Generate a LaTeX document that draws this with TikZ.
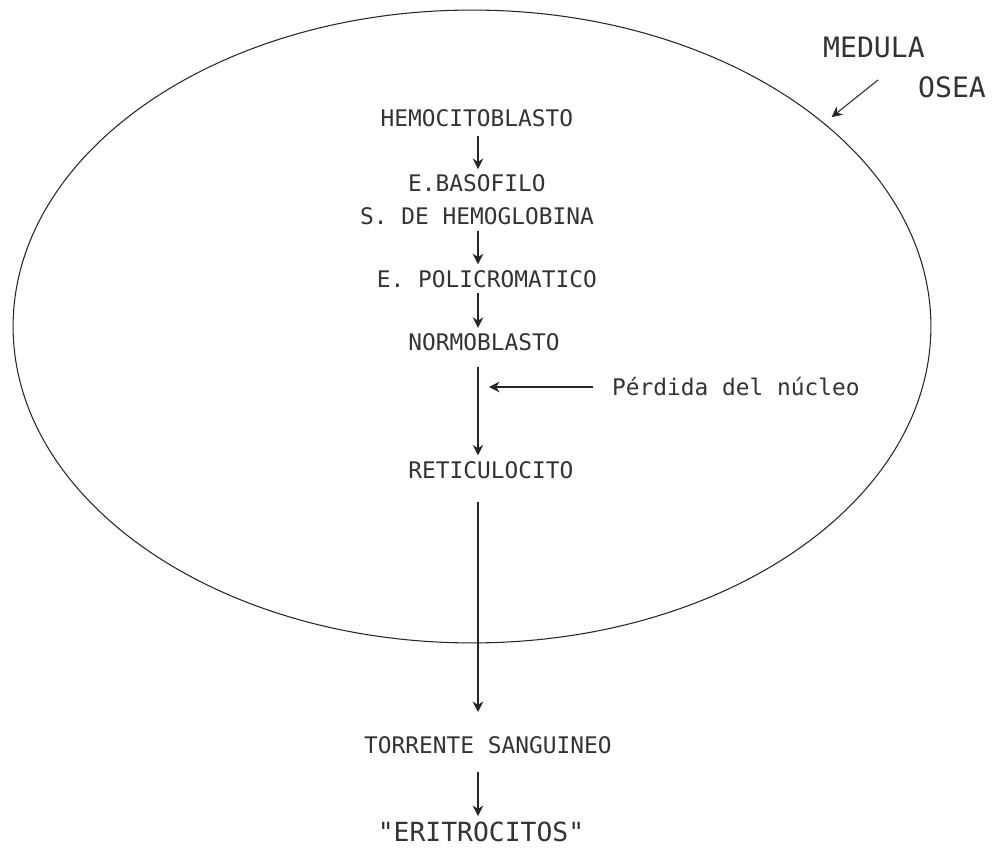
\documentclass[tikz,border=0pt]{standalone}
\usepackage{fontspec}
\usepackage{tikz}
\usetikzlibrary{shapes.geometric, arrows.meta}
\newfontfamily\printer{DejaVu Sans Mono}
\tikzstyle{stage} = [font=\printer\fontsize{13}{15}\selectfont, text=black!80, text height=9.5pt, text depth=0pt]
\tikzstyle{bigtext} = [font=\printer\fontsize{16}{18}\selectfont, text=black!80, text height=11.5pt, text depth=0pt]
\tikzstyle{quoted} = [font=\printer\fontsize{15}{17}\selectfont, text=black!80, text height=11pt, text depth=0pt]
\tikzstyle{arrow} = [line width=0.6pt, draw=black!85, -{Stealth[length=6pt, width=6pt]}]
\usetikzlibrary{positioning}

\begin{document}
\begin{tikzpicture}[x=0.02cm, y=-0.02cm]
        \useasboundingbox (0,0) rectangle (992,848);

        % Bone marrow
        \node (marrow) [ellipse, draw=black!85, line width=0.6pt, minimum width=18.36cm, minimum height=12.66cm, inner sep=0pt, outer sep=0pt] at (472,326.5) {};
        \node (medula) [bigtext] at (874,47) {MEDULA};
        \node (osea) [bigtext] at (952,87) {OSEA};
        \coordinate (pointer) at (878,80);

        % Maturation stages
        \node (hemo) [stage] at (477,118) {HEMOCITOBLASTO};
        \node (baso) [stage, below=0.73cm of hemo] {E.BASOFILO};
        \node (synth) [stage, below=0.07cm of baso] {S. DE HEMOGLOBINA};
        \node (poli) [stage, below=0.67cm of synth, xshift=0.2cm] {E. POLICROMATICO};
        \node (normo) [stage, below=0.69cm of poli, xshift=-0.06cm] {NORMOBLASTO};
        \node (retic) [stage, below=1.97cm of normo, xshift=0.14cm] {RETICULOCITO};

        % Nucleus loss
        \node (nucleo) [stage, anchor=west] at (606,387) {Pérdida del núcleo};

        % Blood stream
        \node (torrente) [stage, below=4.93cm of retic, xshift=-0.06cm] {TORRENTE SANGUINEO};
        \node (eritro) [quoted, below=1.12cm of torrente, xshift=-0.14cm] {"ERITROCITOS"};

        % Arrows
        \coordinate (col) at (478,0);
        \draw [arrow, shorten <=0.06cm] (hemo.south -| col) -- (baso.north -| col);
        \draw [arrow] (synth.south -| col) -- (poli.north -| col);
        \draw [arrow] (poli.south -| col) -- (normo.north -| col);
        \draw [arrow, shorten <=0.2cm] (normo.south -| col) -- (retic.north -| col);
        \draw [arrow, shorten <=0.26cm, shorten >=0.22cm] (nucleo.west) -- (nucleo.west -| col);
        \draw [arrow, shorten <=0.34cm, shorten >=0.38cm] (retic.south -| col) -- (torrente.north -| col);
        \draw [arrow, shorten <=0.24cm] (torrente.south -| col) -- (eritro.north -| col);

        \draw [arrow, shorten >=0.2cm] (pointer) -- (marrow.30);

    \end{tikzpicture}
\end{document}
